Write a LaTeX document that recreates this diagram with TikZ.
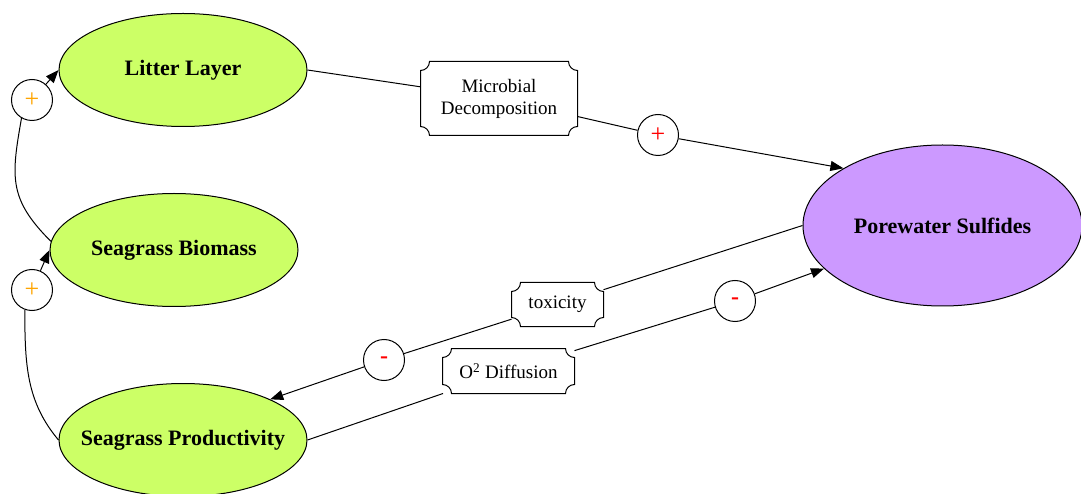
\documentclass[tikz,border=0pt]{standalone}
\usepackage{fontspec}
\setmainfont{Liberation Serif}
\usepackage{xcolor}
\usepackage{tikz}
\usetikzlibrary{positioning,
                arrows.meta,
                calc,
                shapes.geometric}

\begin{document}
\begin{tikzpicture}[x=1pt,y=1pt,line width=1pt,
  factor/.style={ellipse,draw,fill=plant,inner xsep=-18pt,inner ysep=0pt,
    minimum width=248pt,minimum height=113pt,
    font=\fontsize{22}{26}\selectfont\bfseries},
  process/.style={fill=white,inner sep=2pt,align=center,
    font=\fontsize{19}{22}\selectfont},
  sign/.style={circle,draw,fill=white,minimum size=41pt,inner sep=0pt,
    font=\fontsize{26}{28}\selectfont},
  link/.style={-{Triangle[length=13pt,width=10pt]}}]
\colorlet{plant}{rgb,255:red,204;green,255;blue,102}
\colorlet{sulfide}{rgb,255:red,204;green,153;blue,255}
\colorlet{pos}{rgb,255:red,255;green,165;blue,0}
\def\R{9pt}
\useasboundingbox (0,0) rectangle (1081,493);
% compartments
\node [factor] (litter) at (183,423) {Litter Layer};
\node [factor] (biomass) at (174,243) {Seagrass Biomass};
\node [factor] (prod) at (183,53) {Seagrass Productivity};
\node [factor,fill=sulfide,minimum width=279pt,minimum height=161pt]
  (sulf) at (942.5,267.5) {Porewater Sulfides};
% processes
\node [process,minimum width=156pt,minimum height=73pt] (micro) at (499,394.5)
  {Microbial\\Decomposition};
\node [process,minimum width=91pt,minimum height=43pt] (tox) at (557.5,188.5) {toxicity};
\node [process,minimum width=131pt,minimum height=44pt] (otwo) at (508.5,122)
  {O\textsuperscript{2} Diffusion};
\foreach \boxname in {micro,tox,otwo}
\draw ([xshift=\R]\boxname.north west) -- ([xshift=-\R]\boxname.north east)
  arc[start angle=180,end angle=270,radius=\R]
  -- ([yshift=\R]\boxname.south east)
  arc[start angle=90,end angle=180,radius=\R]
  -- ([xshift=\R]\boxname.south west)
  arc[start angle=0,end angle=90,radius=\R]
  -- ([yshift=-\R]\boxname.north west)
  arc[start angle=270,end angle=360,radius=\R] -- cycle;
% signs
\node [sign,text=pos] (upA) at (32,393) {+};
\node [sign,text=pos] (upB) at (32,203) {+};
\node [sign,text=red] (decay) at (658,358) {+};
\node [sign,text=red,font=\fontsize{24}{26}\selectfont\bfseries] (harm) at (384,133) {-};
\node [sign,text=red,font=\fontsize{24}{26}\selectfont\bfseries] (oxy) at (735,192) {-};
% links
\draw (biomass.176) .. controls +(135:60) and +(-100:60) .. (upA.240);
\draw [link] (upA) -- (litter.west);
\draw (prod.west) .. controls +(130:50) and +(-90:55) .. (upB.250);
\draw [link] (upB) -- (biomass.west);
\draw (litter.east) -- (micro);
\draw (micro) -- (decay);
\draw [link] (decay) -- (sulf.150);
\draw (sulf.west) -- (tox);
\draw (tox) -- (harm);
\draw [link] (harm) -- (prod.25);
\draw (prod.east) -- (otwo);
\draw (otwo) -- (oxy);
\draw [link] (oxy) -- (sulf.200);
\end{tikzpicture}
\end{document}
